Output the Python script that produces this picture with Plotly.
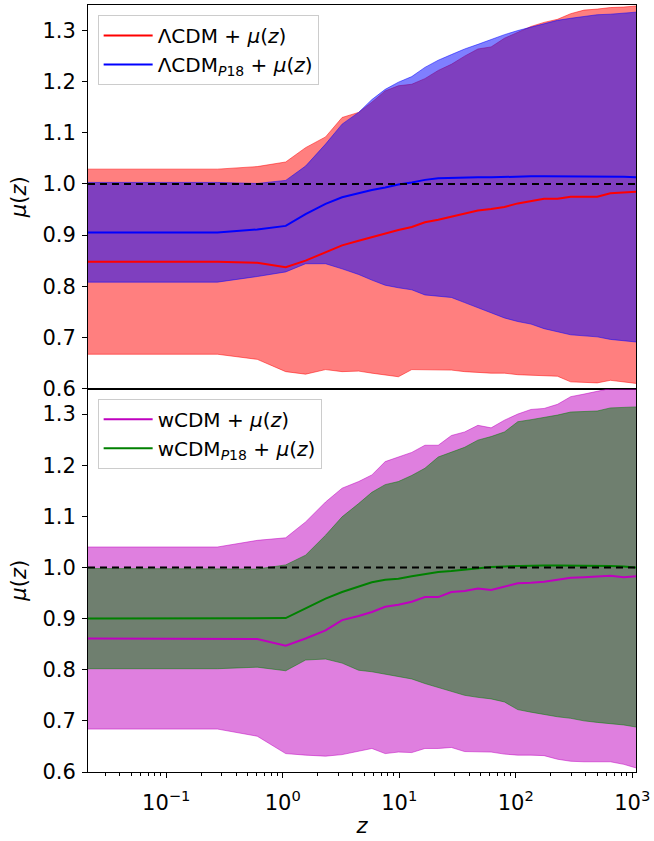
import numpy as np
import plotly.graph_objects as go
from plotly.subplots import make_subplots

# redshift grid
z = [0.0213, 0.275, 0.604, 1.06, 1.57, 2.33, 3.23, 4.48, 5.82, 7.57, 9.83,
     12.8, 16.6, 21.6, 28.0, 36.4, 47.3, 61.4, 79.9, 104, 135, 175, 228,
     296, 385, 500, 649, 845, 1076]

# LCDM + mu(z): median and 68% band
lcdm_mid = [0.848, 0.848, 0.846, 0.837, 0.850, 0.866, 0.880, 0.889, 0.896, 0.904,
            0.910, 0.916, 0.925, 0.930, 0.936, 0.942, 0.948, 0.951, 0.955, 0.962,
            0.967, 0.971, 0.971, 0.975, 0.975, 0.975, 0.982, 0.984, 0.985]
lcdm_lo = [0.667, 0.667, 0.657, 0.633, 0.628, 0.637, 0.633, 0.634, 0.630, 0.627,
           0.623, 0.637, 0.637, 0.636, 0.636, 0.633, 0.631, 0.630, 0.630, 0.627,
           0.626, 0.625, 0.624, 0.613, 0.612, 0.611, 0.616, 0.613, 0.610]
lcdm_hi = [1.029, 1.029, 1.034, 1.043, 1.071, 1.092, 1.130, 1.140, 1.160, 1.182,
           1.192, 1.195, 1.206, 1.222, 1.234, 1.250, 1.264, 1.268, 1.285, 1.297,
           1.308, 1.316, 1.322, 1.333, 1.340, 1.342, 1.345, 1.346, 1.348]

# LCDM_P18 + mu(z)
lcdmp_mid = [0.905, 0.905, 0.911, 0.918, 0.941, 0.961, 0.974, 0.982, 0.988, 0.993,
             0.999, 1.003, 1.008, 1.011, 1.012, 1.013, 1.013, 1.013, 1.014, 1.014,
             1.015, 1.015, 1.015, 1.015, 1.015, 1.014, 1.014, 1.014, 1.013]
lcdmp_lo = [0.808, 0.808, 0.819, 0.828, 0.844, 0.844, 0.834, 0.823, 0.812, 0.802,
            0.797, 0.793, 0.783, 0.780, 0.778, 0.768, 0.758, 0.748, 0.738, 0.731,
            0.726, 0.717, 0.711, 0.705, 0.703, 0.701, 0.696, 0.694, 0.691]
lcdmp_hi = [1.003, 1.003, 1.001, 1.007, 1.035, 1.078, 1.117, 1.140, 1.165, 1.185,
            1.199, 1.210, 1.228, 1.242, 1.253, 1.264, 1.273, 1.283, 1.292, 1.300,
            1.307, 1.314, 1.320, 1.324, 1.328, 1.331, 1.332, 1.334, 1.336]

# wCDM + mu(z)
wcdm_mid = [0.861, 0.861, 0.860, 0.847, 0.861, 0.877, 0.897, 0.905, 0.913, 0.923,
            0.927, 0.933, 0.942, 0.942, 0.952, 0.954, 0.959, 0.956, 0.963, 0.969,
            0.970, 0.972, 0.976, 0.980, 0.981, 0.982, 0.984, 0.981, 0.983]
wcdm_lo = [0.684, 0.684, 0.670, 0.636, 0.633, 0.631, 0.634, 0.641, 0.646, 0.636,
           0.639, 0.638, 0.646, 0.646, 0.648, 0.640, 0.639, 0.639, 0.635, 0.633,
           0.633, 0.632, 0.625, 0.621, 0.620, 0.620, 0.620, 0.615, 0.608]
wcdm_hi = [1.040, 1.040, 1.053, 1.058, 1.089, 1.128, 1.155, 1.168, 1.181, 1.207,
           1.216, 1.225, 1.239, 1.239, 1.258, 1.265, 1.278, 1.273, 1.288, 1.300,
           1.309, 1.311, 1.319, 1.334, 1.339, 1.345, 1.350, 1.350, 1.350]

# wCDM_P18 + mu(z)
wcdmp_mid = [0.900, 0.900, 0.901, 0.901, 0.920, 0.939, 0.952, 0.962, 0.971, 0.976,
             0.978, 0.983, 0.987, 0.991, 0.993, 0.996, 0.999, 1.001, 1.002, 1.003,
             1.003, 1.004, 1.004, 1.004, 1.004, 1.003, 1.003, 1.002, 1.000]
wcdmp_lo = [0.802, 0.802, 0.805, 0.798, 0.819, 0.821, 0.813, 0.799, 0.796, 0.791,
            0.786, 0.782, 0.773, 0.765, 0.757, 0.750, 0.746, 0.743, 0.737, 0.722,
            0.717, 0.712, 0.708, 0.705, 0.700, 0.697, 0.695, 0.692, 0.688]
wcdmp_hi = [0.998, 0.998, 0.997, 1.005, 1.024, 1.063, 1.099, 1.125, 1.147, 1.162,
            1.168, 1.180, 1.194, 1.216, 1.225, 1.235, 1.249, 1.256, 1.265, 1.285,
            1.289, 1.293, 1.298, 1.304, 1.305, 1.306, 1.312, 1.313, 1.314]

y_ticks = [0.6, 0.7, 0.8, 0.9, 1.0, 1.1, 1.2, 1.3]
x_ticks = [0.1, 1, 10, 100, 1000]
x_ticktext = ["10<sup>\u22121</sup>", "10<sup>0</sup>", "10<sup>1</sup>",
              "10<sup>2</sup>", "10<sup>3</sup>"]

FONT = "DejaVu Sans"
MU = "<i>\u03bc</i>(<i>z</i>)"

fig = make_subplots(rows=2, cols=1, shared_xaxes=True, vertical_spacing=0)


def band(lo, hi, rgb, row):
    edge = f"rgba({rgb},0.5)"
    fig.add_trace(go.Scatter(x=z, y=lo, mode="lines", line=dict(color=edge, width=1),
                             showlegend=False, hoverinfo="skip"), row=row, col=1)
    fig.add_trace(go.Scatter(x=z, y=hi, mode="lines", line=dict(color=edge, width=1),
                             fill="tonexty", fillcolor=f"rgba({rgb},0.5)",
                             showlegend=False, hoverinfo="skip"), row=row, col=1)


def median(mid, color, name, row, legend):
    fig.add_trace(go.Scatter(x=z, y=mid, mode="lines", line=dict(color=color, width=2),
                             name=name, legend=legend, legendgroup=name),
                  row=row, col=1)


# upper panel
band(lcdm_lo, lcdm_hi, "255,0,0", 1)
band(lcdmp_lo, lcdmp_hi, "0,0,255", 1)
median(lcdm_mid, "#ff0000", "\u039bCDM + " + MU, 1, "legend")
median(lcdmp_mid, "#0000ff", "\u039bCDM<sub><i>P</i>18</sub> + " + MU, 1, "legend")

# lower panel
band(wcdm_lo, wcdm_hi, "191,0,191", 2)
band(wcdmp_lo, wcdmp_hi, "0,128,0", 2)
median(wcdm_mid, "#bf00bf", "wCDM + " + MU, 2, "legend2")
median(wcdmp_mid, "#008000", "wCDM<sub><i>P</i>18</sub> + " + MU, 2, "legend2")

for r in (1, 2):
    fig.add_hline(y=1.0, line=dict(color="black", width=2, dash="7px,5px"),
                  layer="above", row=r, col=1)

xrange = [np.log10(z[0]), np.log10(z[-1])]
minor_vals = [k * 10.0 ** n for n in range(-2, 4) for k in range(2, 10)]

axis_common = dict(showline=True, linecolor="black", linewidth=1, mirror=True,
                   showgrid=False, zeroline=False, ticks="outside", ticklen=5,
                   tickwidth=1, tickcolor="black",
                   tickfont=dict(family=FONT, size=21, color="black"))

for r in (1, 2):
    fig.update_yaxes(range=[0.6, 1.35], tickvals=y_ticks,
                     ticktext=[f"{v:.1f}" for v in y_ticks], ticklabelstandoff=2,
                     title=dict(text=MU, font=dict(family=FONT, size=21, color="black"),
                                standoff=10),
                     row=r, col=1, **axis_common)

fig.update_xaxes(type="log", range=xrange, tickvals=x_ticks, ticktext=x_ticktext,
                 ticklabelstandoff=7,
                 minor=dict(tickvals=minor_vals, ticks="outside", ticklen=3,
                            tickwidth=1, tickcolor="black", showgrid=False),
                 row=2, col=1, **axis_common)
fig.update_xaxes(title=dict(text="<i>z</i>", font=dict(family=FONT, size=21, color="black"),
                            standoff=4), row=2, col=1)
top_axis = dict(axis_common)
top_axis["ticks"] = ""
fig.update_xaxes(type="log", range=xrange, showticklabels=False, row=1, col=1, **top_axis)

legend_style = dict(xanchor="left", yanchor="top", bgcolor="rgba(255,255,255,0.8)",
                    bordercolor="#cccccc", borderwidth=1, traceorder="normal",
                    tracegroupgap=3, itemwidth=49,
                    font=dict(family=FONT, size=20, color="black"))

fig.update_layout(
    width=654, height=841,
    margin=dict(l=88, r=15, t=4, b=69),
    paper_bgcolor="white", plot_bgcolor="white",
    font=dict(family=FONT, size=20, color="black"),
    legend=dict(x=0.0176, y=0.987, **legend_style),
    legend2=dict(x=0.0176, y=0.4866, **legend_style),
)

fig.write_html("out.html")
